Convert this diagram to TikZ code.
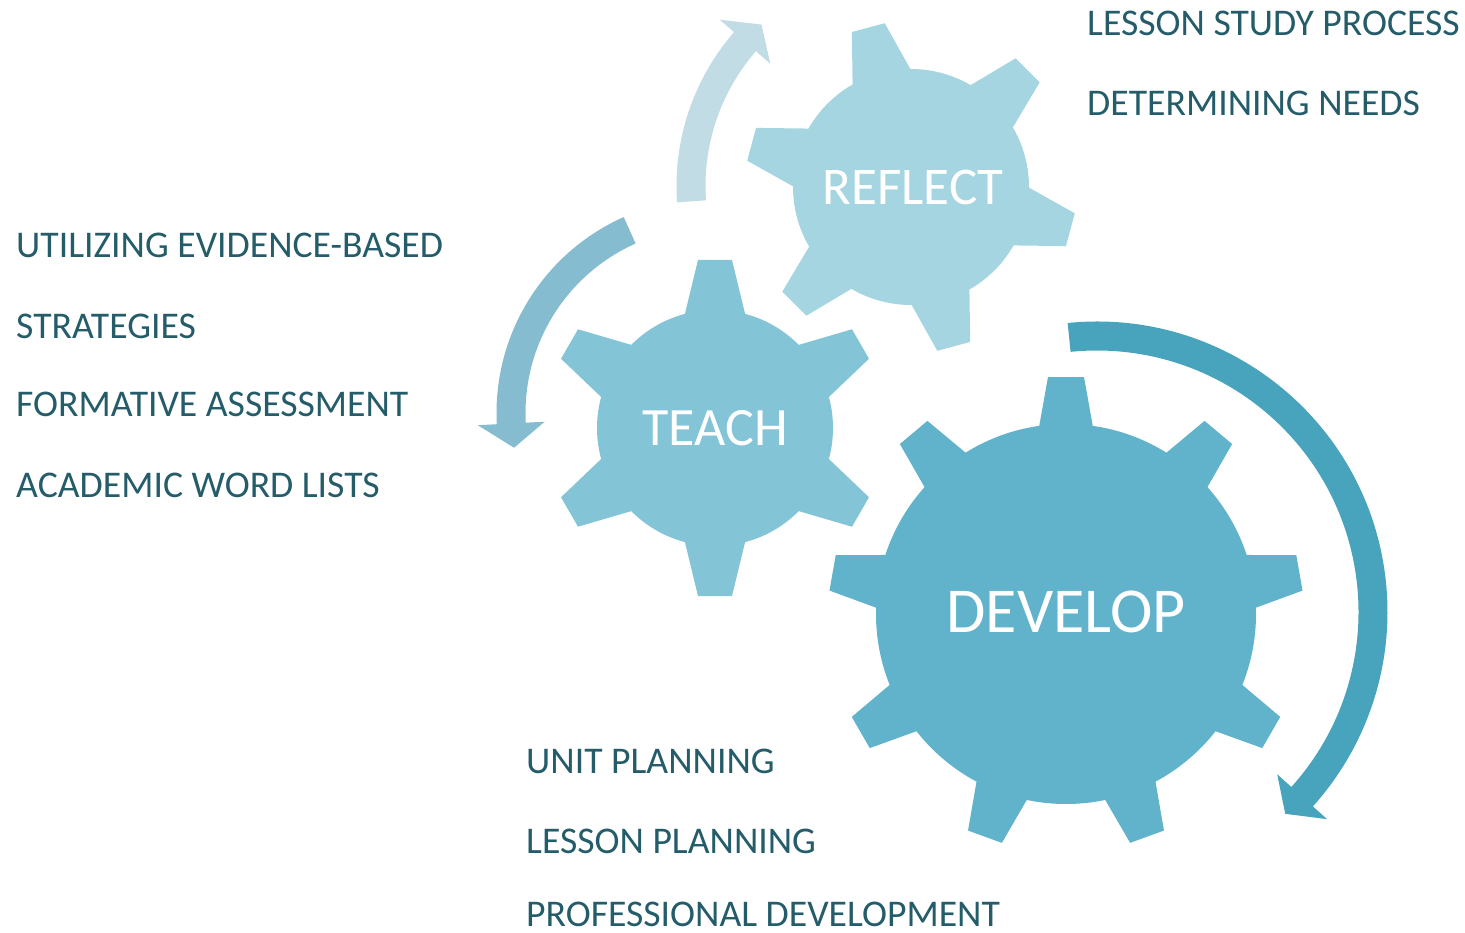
\documentclass[tikz,border=0pt]{standalone}
\usepackage{fontspec}
\setmainfont{Carlito}
\usepackage{tikz}
\usetikzlibrary{calc,positioning}

\definecolor{reflectcol}{HTML}{A6D5E2}
\definecolor{teachcol}{HTML}{83C4D6}
\definecolor{developcol}{HTML}{60B3CB}
\definecolor{arrowlight}{HTML}{C1DCE5}
\definecolor{arrowmid}{HTML}{86BCCF}
\definecolor{arrowdark}{HTML}{48A4BD}
\definecolor{itemtext}{HTML}{245C6A}

% gear: centre, teeth, offset angle, body radius, tip radius, base half-width, tip half-width, colour
\newcommand{\gearshape}[8]{%
  \fill[#8] (#1) circle[radius=#4];
  \foreach \k in {1,...,#2}{
    \fill[#8, shift={(#1)}, rotate={#3+360/#2*\k}]
      (#4-20,-#6) -- (#5,-#7) -- (#5,#7) -- (#4-20,#6) -- cycle;
  }}

% curved arrow: centre, radius, start angle, head base angle, tip angle, colour
\newcommand{\ringarrow}[6]{%
  \fill[#6] ($(#1)+(#3:#2+14.5)$) arc[start angle=#3, end angle=#4, radius=#2+14.5]
    -- ($(#1)+(#4:#2+33.5)$) -- ($(#1)+(#5:#2)$) -- ($(#1)+(#4:#2-33.5)$)
    -- ($(#1)+(#4:#2-14.5)$) arc[start angle=#4, end angle=#3, radius=#2-14.5] -- cycle;}

\tikzset{
  item/.style={anchor=base west, inner sep=0pt, text=itemtext,
    font=\fontsize{37.7}{40}\selectfont},
  gearlbl/.style={inner sep=0pt, text=white}
}

\begin{document}
\begin{tikzpicture}[x=1pt,y=1pt]
    \useasboundingbox (0,0) rectangle (1465,-933);

    \coordinate (reflect) at (911,-187);
    \coordinate (teach) at (715,-428);
    \coordinate (develop) at (1066,-614);

    % gears
    \gearshape{reflect}{6}{45}{118}{165}{34}{17}{reflectcol}
    \gearshape{teach}{6}{30}{118}{168}{34}{17}{teachcol}
    \gearshape{develop}{9}{50}{190}{237}{30}{18}{developcol}

    % arrows
    \ringarrow{911,-186}{220}{184}{139}{132.8}{arrowlight}
    \ringarrow{711,-413}{200}{114}{183}{190}{arrowmid}
    \ringarrow{1097,-612}{276}{95.8}{-42}{-47}{arrowdark}

    \node[gearlbl, font=\fontsize{53}{60}\selectfont] (reflectlbl) at (913,-187) {REFLECT};
    \node[gearlbl, font=\fontsize{54}{60}\selectfont] (teachlbl) at (715,-428) {TEACH};
    \node[gearlbl, font=\fontsize{64}{70}\selectfont] (developlbl) at (1066,-612) {DEVELOP};

    % reflect items
    \node[item] (lesson) at (1087,-36) {LESSON STUDY PROCESS};
    \node[item] (needs) at (1087,-116) {DETERMINING NEEDS};

    % teach items
    \node[item] (evidence) at (16,-258) {UTILIZING EVIDENCE-BASED};
    \node[item] (strategies) at (16,-338) {STRATEGIES};
    \node[item] (formative) at (16,-417) {FORMATIVE ASSESSMENT};
    \node[item] (wordlists) at (16,-497) {ACADEMIC WORD LISTS};

    % develop items
    \node[item] (unit) at (526,-773) {UNIT PLANNING};
    \node[item] (lessonplan) at (526,-853) {LESSON PLANNING};
    \node[item] (profdev) at (526,-926) {PROFESSIONAL DEVELOPMENT};
\end{tikzpicture}
\end{document}
